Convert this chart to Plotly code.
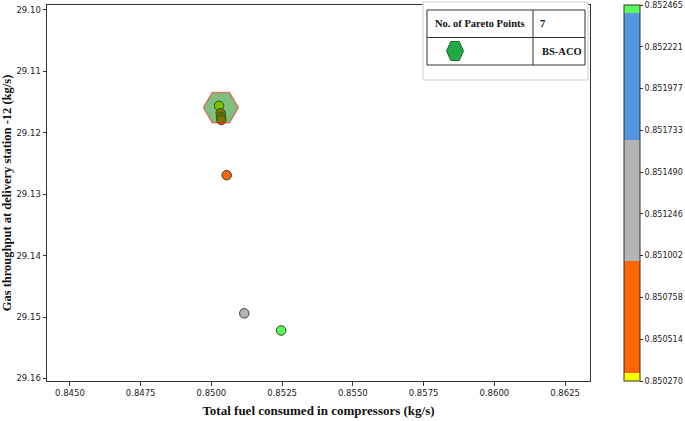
import plotly.graph_objects as go

# ---- data ----
fuel = [0.850270, 0.850330, 0.850340, 0.850350, 0.850540, 0.851162, 0.852465]
throughput = [29.1156, 29.1168, 29.1175, 29.1179, 29.1269, 29.1494, 29.1522]
best_fuel = [0.850335]
best_throughput = [29.1159]
x_ticks = [0.8450, 0.8475, 0.8500, 0.8525, 0.8550, 0.8575, 0.8600, 0.8625]
y_ticks = [29.10, 29.11, 29.12, 29.13, 29.14, 29.15, 29.16]
cbar_ticks = [0.850270, 0.850514, 0.850758, 0.851002, 0.851246,
              0.851490, 0.851733, 0.851977, 0.852221, 0.852465]
cbar_labels = ["0.850270", "0.850514", "0.850758", "0.851002", "0.851246",
               "0.851490", "0.851733", "0.851977", "0.852221", "0.852465"]
band_edges = [0.850270, 0.850319, 0.850968, 0.851675, 0.852416, 0.852465]
band_colors = ["#ffff00", "#ff6600", "#b3b3b3", "#5596e0", "#55ff55"]
table_rows = [["No. of Pareto Points", "7"], ["", "BS-ACO"]]

cmin, cmax = band_edges[0], band_edges[-1]
colorscale = []
for i, c in enumerate(band_colors):
    a = (band_edges[i] - cmin) / (cmax - cmin)
    b = (band_edges[i + 1] - cmin) / (cmax - cmin)
    colorscale.append([a, c])
    colorscale.append([b, c])

W, H = 685, 421
L, R, T, B = 47, 95, 5, 40
pw, ph = W - L - R, H - T - B


def px(x):
    return (x - L) / pw


def py(y):
    return (H - B - y) / ph


fig = go.Figure()
fig.add_trace(go.Scatter(
    x=fuel, y=throughput, mode="markers",
    marker=dict(size=9.5, color=fuel, colorscale=colorscale, cmin=cmin, cmax=cmax,
                line=dict(color="#3a3a3a", width=1),
                colorbar=dict(
                    x=px(624), xanchor="left", xref="paper", xpad=0, ypad=0,
                    y=0.5, yanchor="middle", len=1.0, lenmode="fraction",
                    thickness=16, outlinewidth=1, outlinecolor="#333",
                    tickvals=cbar_ticks, ticktext=cbar_labels,
                    ticks="outside", ticklen=3, tickcolor="#333",
                    tickfont=dict(family="DejaVu Sans", size=8, color="#222"),
                )),
    showlegend=False, hoverinfo="x+y",
))
fig.add_trace(go.Scatter(
    x=best_fuel, y=best_throughput, mode="markers",
    marker=dict(symbol="hexagon2", size=35, color="rgba(0,128,0,0.5)",
                line=dict(color="rgba(255,0,0,0.45)", width=1.5)),
    showlegend=False,
))

axis_common = dict(showgrid=False, zeroline=False, showline=True, linecolor="#333",
                   linewidth=1, mirror=True, ticks="outside", ticklen=3.5,
                   tickcolor="#333",
                   tickfont=dict(family="DejaVu Sans", size=8.5, color="#222"))

fig.update_xaxes(range=[0.84419, 0.86338], tickvals=x_ticks,
                 ticktext=[f"{v:.4f}" for v in x_ticks],
                 title=dict(text="<b>Total fuel consumed in compressors (kg/s)</b>",
                            font=dict(family="Liberation Serif", size=13, color="#111"),
                            standoff=9),
                 **axis_common)
fig.update_yaxes(range=[29.16042, 29.09919], tickvals=y_ticks,
                 ticktext=[f"{v:.2f}" for v in y_ticks],
                 title=dict(text="<b>Gas throughput at delivery station -12 (kg/s)</b>",
                            font=dict(family="Liberation Serif", size=12.5, color="#111"),
                            standoff=4),
                 **axis_common)

shapes = []
# legend frame
shapes.append(dict(type="rect", xref="paper", yref="paper",
                   x0=px(423), x1=px(588), y0=py(80), y1=py(2),
                   line=dict(color="#cfcfcf", width=1), fillcolor="white", layer="above"))
# table
shapes.append(dict(type="rect", xref="paper", yref="paper",
                   x0=px(427), x1=px(585), y0=py(65), y1=py(10),
                   line=dict(color="#333", width=1), layer="above"))
shapes.append(dict(type="line", xref="paper", yref="paper",
                   x0=px(427), x1=px(585), y0=py(37.5), y1=py(37.5),
                   line=dict(color="#333", width=1), layer="above"))
shapes.append(dict(type="line", xref="paper", yref="paper",
                   x0=px(533), x1=px(533), y0=py(65), y1=py(10),
                   line=dict(color="#333", width=1), layer="above"))
# legend hexagon icon
cx, cy, hw, hh = 455, 51, 8.5, 9.5
pts = [(cx - hw, cy), (cx - hw / 2, cy - hh), (cx + hw / 2, cy - hh),
       (cx + hw, cy), (cx + hw / 2, cy + hh), (cx - hw / 2, cy + hh)]
path = "M " + " L ".join(f"{px(a):.5f},{py(b):.5f}" for a, b in pts) + " Z"
shapes.append(dict(type="path", xref="paper", yref="paper", path=path,
                   fillcolor="#22aa48", line=dict(color="#1a6e30", width=1), layer="above"))

tfont = dict(family="Liberation Serif", size=10.5, color="#111")
annotations = [
    dict(xref="paper", yref="paper", x=px(480), y=py(24), text="<b>" + table_rows[0][0] + "</b>",
         showarrow=False, font=tfont, xanchor="center", yanchor="middle"),
    dict(xref="paper", yref="paper", x=px(538), y=py(24), text="<b>" + table_rows[0][1] + "</b>",
         showarrow=False, font=tfont, xanchor="left", yanchor="middle"),
    dict(xref="paper", yref="paper", x=px(540), y=py(51), text="<b>" + table_rows[1][1] + "</b>",
         showarrow=False, font=tfont, xanchor="left", yanchor="middle"),
]

fig.update_layout(width=W, height=H, margin=dict(l=L, r=R, t=T, b=B, autoexpand=False),
                  plot_bgcolor="white", paper_bgcolor="white",
                  shapes=shapes, annotations=annotations, showlegend=False)

fig.write_html("out.html", config={"displayModeBar": False},
               post_script="document.body.style.margin='0';document.body.style.overflow='hidden';")
